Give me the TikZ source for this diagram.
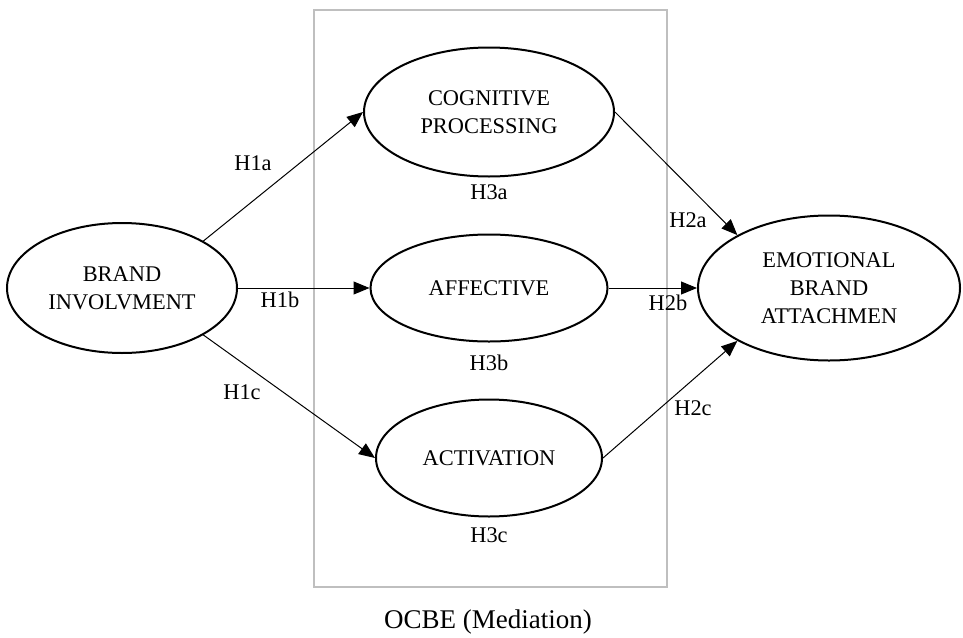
\documentclass[tikz,border=0pt]{standalone}
\usepackage{fontspec}
\setmainfont{Liberation Serif}
\usetikzlibrary{shapes.geometric,arrows.meta}
\tikzstyle{construct}=[ellipse,draw,line width=1pt,fill=white,align=center,inner sep=0pt]
\tikzstyle{link}=[draw,line width=0.5pt,-{Triangle[length=8pt,width=6.5pt]}]
\tikzstyle{hyp}=[inner sep=0pt]
\tikzstyle{frame}=[draw=black!25,line width=1pt]
\begin{document}
\begin{tikzpicture}[x=0.5pt,y=-0.5pt,font=\fontsize{11.2}{14}\selectfont]
                \useasboundingbox (0,0) rectangle (963,637);
                \path[frame] (314,10) rectangle (667,587);
                \path (122,288) node[construct,minimum width=115pt,minimum height=65pt] (bi) {BRAND\\INVOLVMENT}
                    (489,112) node[construct,minimum width=125pt,minimum height=64.5pt] (cog) {COGNITIVE\\PROCESSING}
                    (489,288) node[construct,minimum width=118.5pt,minimum height=53.5pt] (aff) {AFFECTIVE}
                    (489,458) node[construct,minimum width=113pt,minimum height=58.5pt] (act) {ACTIVATION}
                    (829,288) node[construct,minimum width=131pt,minimum height=72.5pt] (emo) {EMOTIONAL\\BRAND\\ATTACHMEN}
                    ;
                \path (bi.30) edge[link] (cog.west)
                    (bi.east) edge[link] (aff.west)
                    (bi.-30) edge[link] (act.west)
                    (cog.east) edge[link] (emo.150)
                    (aff.east) edge[link] (emo.west)
                    (act.east) edge[link] (emo.210)
                    ;
                \path (253,163) node[hyp] (h1a) {H1a}
                    (280,300) node[hyp] (h1b) {H1b}
                    (242,392) node[hyp] (h1c) {H1c}
                    (688,220) node[hyp] (h2a) {H2a}
                    (668,303) node[hyp] (h2b) {H2b}
                    (693,408) node[hyp] (h2c) {H2c}
                    (489,192) node[hyp] (h3a) {H3a}
                    (489,363) node[hyp] (h3b) {H3b}
                    (489,535) node[hyp] (h3c) {H3c}
                    (488,622) node[hyp,font=\fontsize{13.5}{16}\selectfont] (ocbe) {OCBE (Mediation)}
                    ;
            \end{tikzpicture}
\end{document}
